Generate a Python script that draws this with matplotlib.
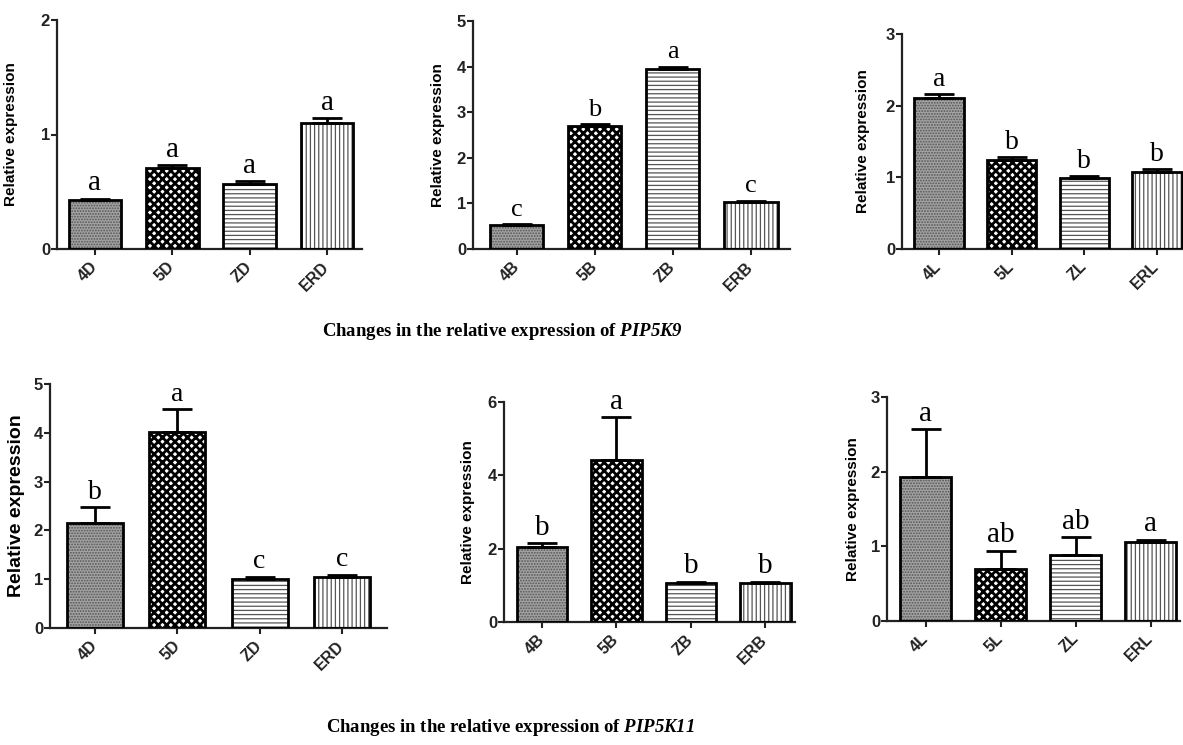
import matplotlib
matplotlib.use('Agg')
from matplotlib import pyplot as plt

plt.rcParams['hatch.linewidth'] = 0.9
plt.rcParams['mathtext.fontset'] = 'custom'
plt.rcParams['mathtext.bf'] = 'Liberation Serif:bold:italic'

# top row: PIP5K9, bottom row: PIP5K11
labels_d = ['4D', '5D', 'ZD', 'ERD']
labels_b = ['4B', '5B', 'ZB', 'ERB']
labels_l = ['4L', '5L', 'ZL', 'ERL']

k9_d_mean = [0.43, 0.71, 0.57, 1.10]
k9_d_err = [0.01, 0.02, 0.02, 0.04]
k9_d_sig = ['a', 'a', 'a', 'a']

k9_b_mean = [0.53, 2.70, 3.95, 1.03]
k9_b_err = [0.02, 0.04, 0.05, 0.03]
k9_b_sig = ['c', 'b', 'a', 'c']

k9_l_mean = [2.11, 1.24, 0.99, 1.08]
k9_l_err = [0.05, 0.04, 0.03, 0.03]
k9_l_sig = ['a', 'b', 'b', 'b']

k11_d_mean = [2.15, 4.02, 1.00, 1.05]
k11_d_err = [0.32, 0.47, 0.05, 0.04]
k11_d_sig = ['b', 'a', 'c', 'c']

k11_b_mean = [2.04, 4.42, 1.07, 1.07]
k11_b_err = [0.11, 1.17, 0.03, 0.03]
k11_b_sig = ['b', 'a', 'b', 'b']

k11_l_mean = [1.93, 0.70, 0.88, 1.06]
k11_l_err = [0.64, 0.24, 0.24, 0.03]
k11_l_sig = ['a', 'ab', 'ab', 'a']

W, H = 1183, 745

# fill, hatch, hatch colour, hatch width for each of the four bars
styles = [
    ('#a3a3a3', '......', '#555555', 0.9),
    ('white', 'xxxx', 'black', 2.0),
    ('white', '----', '#555555', 0.9),
    ('white', '||||', '#555555', 0.9),
]


def panel(fig, box, xlim, ymax, yticks, labels, mean, err, sig,
          letter_size=19, ylab_size=11, ylab_off=32):
    l, t, r, b = box
    ax = fig.add_axes([l / W, 1 - b / H, (r - l) / W, (b - t) / H])
    x = list(range(len(labels)))
    for i in x:
        fc, hatch, hc, hw = styles[i]
        bars = ax.bar(i, mean[i], 0.68, color=fc, hatch=hatch, edgecolor=hc,
                      linewidth=0, zorder=2)
        for p in bars:
            if hasattr(p, 'set_hatch_linewidth'):
                p.set_hatch_linewidth(hw)
        ax.bar(i, mean[i], 0.68, fill=False, edgecolor='black',
               linewidth=2.0, zorder=3)
    ax.errorbar(x, mean, yerr=[[0] * len(x), err], fmt='none',
                ecolor='black', elinewidth=2.0, capsize=11, capthick=2.0,
                zorder=4)
    for i in x:
        ax.annotate(sig[i], (i, mean[i] + err[i]), xytext=(0, 6),
                    textcoords='offset points', ha='center', va='baseline',
                    fontsize=letter_size, family='Liberation Serif')
    ax.set_xlim(*xlim)
    ax.set_ylim(0, ymax)
    ax.set_yticks(yticks)
    ax.set_xticks(x)
    ax.set_xticklabels(labels, rotation=45, ha='right', va='center',
                       rotation_mode='anchor', fontsize=11.5,
                       fontweight='bold', family='Liberation Sans',
                       color='#222222')
    for lab in ax.get_yticklabels():
        lab.set_fontsize(12)
        lab.set_fontweight('bold')
        lab.set_family('Liberation Sans')
        lab.set_color('#222222')
    for s in ['top', 'right']:
        ax.spines[s].set_visible(False)
    for s in ['left', 'bottom']:
        ax.spines[s].set_linewidth(1.6)
        ax.spines[s].set_color('#222222')
    ax.tick_params(axis='both', direction='out', length=4, width=1.5,
                   color='#222222', pad=1)
    ax.tick_params(axis='x', pad=7)
    ax.set_ylabel('Relative expression', fontsize=ylab_size,
                  fontweight='bold', family='Liberation Sans')
    ax.yaxis.set_label_coords(-ylab_off / (r - l), 0.5)
    return ax


fig = plt.figure(figsize=(W / 100, H / 100), dpi=100)

panel(fig, (57, 20, 362, 249), (-0.49, 3.45), 2, [0, 1, 2],
      labels_d, k9_d_mean, k9_d_err, k9_d_sig, letter_size=21, ylab_off=39)
panel(fig, (473, 21, 790, 249), (-0.56, 3.5), 5, range(6),
      labels_b, k9_b_mean, k9_b_err, k9_b_sig, letter_size=19, ylab_off=28)
panel(fig, (902, 34, 1183, 249), (-0.51, 3.36), 3, range(4),
      labels_l, k9_l_mean, k9_l_err, k9_l_sig, letter_size=20, ylab_off=32)

panel(fig, (50, 384, 387, 628), (-0.55, 3.55), 5, range(6),
      labels_d, k11_d_mean, k11_d_err, k11_d_sig, letter_size=20,
      ylab_size=14, ylab_off=25)
panel(fig, (504, 402, 795, 622), (-0.51, 3.4), 6, [0, 2, 4, 6],
      labels_b, k11_b_mean, k11_b_err, k11_b_sig, letter_size=21, ylab_off=29)
panel(fig, (887, 397, 1180, 621), (-0.52, 3.39), 3, range(4),
      labels_l, k11_l_mean, k11_l_err, k11_l_sig, letter_size=21, ylab_off=27)

fig.text(503 / W, 1 - 331 / H,
         r'Changes in the relative expression of $\mathbf{PIP5K9}$',
         ha='center', va='center', fontsize=13.5, fontweight='bold',
         family='Liberation Serif')
fig.text(510 / W, 1 - 727 / H,
         r'Changes in the relative expression of $\mathbf{PIP5K11}$',
         ha='center', va='center', fontsize=13.5, fontweight='bold',
         family='Liberation Serif')

fig.savefig('out.png', dpi=100)
